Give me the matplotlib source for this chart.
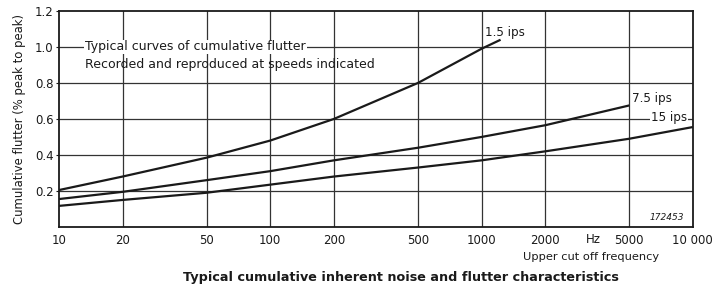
import matplotlib
matplotlib.use("Agg")
import matplotlib.pyplot as plt

plt.rcParams['font.family'] = ['DejaVu Sans']

# values
freq_15 = [10, 20, 50, 100, 200, 500, 1000, 1230]
flutter_15 = [0.205, 0.28, 0.385, 0.48, 0.60, 0.80, 0.99, 1.04]
freq_75 = [10, 20, 50, 100, 200, 500, 1000, 2000, 5000]
flutter_75 = [0.155, 0.195, 0.26, 0.31, 0.37, 0.44, 0.50, 0.565, 0.675]
freq_150 = [10, 20, 50, 100, 200, 500, 1000, 2000, 5000, 10000]
flutter_150 = [0.117, 0.15, 0.19, 0.235, 0.28, 0.33, 0.37, 0.42, 0.49, 0.555]

x_ticks = [10, 20, 50, 100, 200, 500, 1000, 2000, 5000, 10000]
x_labels = ['10', '20', '50', '100', '200', '500', '1000', '2000', '5000', '10 000']
y_ticks = [0.2, 0.4, 0.6, 0.8, 1.0, 1.2]
y_labels = ['0.2', '0.4', '0.6', '0.8', '1.0', '1.2']

ink = '#1a1a1a'

fig = plt.figure(figsize=(7.24, 2.88), dpi=100)
ax = fig.add_axes([0.0815, 0.212, 0.8755, 0.75])

ax.set_xscale('log')
ax.set_xlim(10, 10000)
ax.set_ylim(0, 1.2)

# grid
for x in x_ticks[1:-1]:
    ax.axvline(x, color='#333333', lw=0.9, zorder=1)
for y in y_ticks[:-1]:
    ax.axhline(y, color='#333333', lw=0.9, zorder=1)

for f, v in [(freq_15, flutter_15), (freq_75, flutter_75), (freq_150, flutter_150)]:
    ax.plot(f, v, color=ink, lw=1.6, zorder=3, solid_capstyle='butt')

ax.set_xticks(x_ticks)
ax.set_xticklabels(x_labels)
ax.set_xticks([], minor=True)
ax.set_yticks(y_ticks)
ax.set_yticklabels(y_labels)
ax.tick_params(axis='x', length=0, labelsize=8.5, colors=ink, pad=5)
ax.tick_params(axis='y', length=2, width=0.8, labelsize=8.5, colors=ink, pad=2)
for s in ax.spines.values():
    s.set_linewidth(1.3)
    s.set_color(ink)

ax.set_ylabel('Cumulative flutter (% peak to peak)', fontsize=8.4, color=ink, labelpad=6)

box = dict(facecolor='white', edgecolor='none', pad=0.5)
ax.text(13.3, 1.0, 'Typical curves of cumulative flutter', fontsize=9, color=ink,
        va='center', ha='left', bbox=box, zorder=4)
ax.text(13.3, 0.9, 'Recorded and reproduced at speeds indicated', fontsize=9, color=ink,
        va='center', ha='left', zorder=4)
ax.text(1040, 1.08, '1.5 ips', fontsize=8.6, color=ink, va='center', ha='left', zorder=4)
ax.text(5150, 0.715, '7.5 ips', fontsize=8.6, color=ink, va='center', ha='left', zorder=4)
ax.text(7700, 0.61, '15 ips', fontsize=8.6, color=ink, va='center', ha='center',
        bbox=dict(facecolor='white', edgecolor='none', pad=0.8), zorder=4)
ax.text(9100, 0.055, '172453', fontsize=6.5, color=ink, style='italic', va='center', ha='right', zorder=4)

ax.text(3380, -0.07, 'Hz', fontsize=8.5, color=ink, va='center', ha='center', clip_on=False)
ax.text(1570, -0.165, 'Upper cut off frequency', fontsize=8.2, color=ink, va='center', ha='left',
        clip_on=False)

fig.text(0.554, 0.038, 'Typical cumulative inherent noise and flutter characteristics',
         fontsize=9.2, fontweight='bold', color=ink, ha='center', va='center')

fig.savefig('out.png', dpi=100)
